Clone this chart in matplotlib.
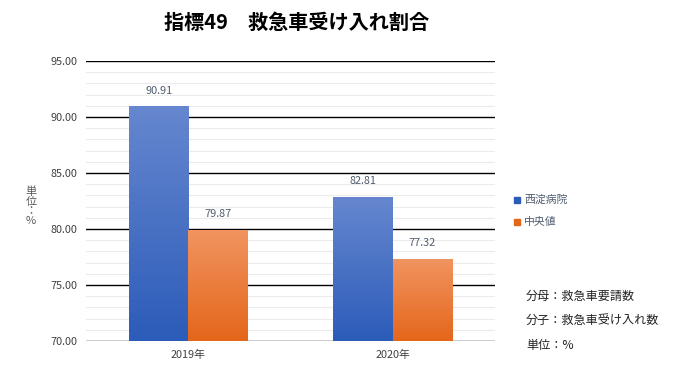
import matplotlib
matplotlib.use("Agg")
import matplotlib.pyplot as plt
import numpy as np
from matplotlib.colors import LinearSegmentedColormap

plt.rcParams['font.family'] = ['Noto Sans CJK JP', 'DejaVu Sans']

# Data
years = ["2019年", "2020年"]
hospital = [90.91, 82.81]
median = [79.87, 77.32]
series_names = ["西淀病院", "中央値"]
notes = ["分母：救急車要請数", "分子：救急車受け入れ数", "単位：%"]

blue_top, blue_bot = "#6687cf", "#2c5cb9"
orange_top, orange_bot = "#f19460", "#e4661a"

fig = plt.figure(figsize=(7, 3.7), dpi=100)
ax = fig.add_axes([86 / 700, 1 - 341 / 370, 409 / 700, 280 / 370])

x = np.arange(len(years))
w = 0.29
ymin, ymax = 70, 95


def grad_bars(xs, vals, top, bot):
    cmap = LinearSegmentedColormap.from_list("g", [bot, top])
    bars = ax.bar(xs, vals, w, color="none", zorder=3)
    for b in bars:
        x0, y0 = b.get_x(), ymin
        x1, y1 = x0 + b.get_width(), b.get_height()
        grad = np.linspace(0, 1, 256).reshape(-1, 1)
        ax.imshow(grad, cmap=cmap, origin="lower", aspect="auto",
                  extent=[x0, x1, y0, y1], zorder=3)
    return bars


grad_bars(x - w / 2, hospital, blue_top, blue_bot)
grad_bars(x + w / 2, median, orange_top, orange_bot)

for xi, v in zip(x - w / 2, hospital):
    ax.text(xi, v + 1.0, f"{v:.2f}", ha="center", va="bottom",
            fontsize=7.8, color="#4f5b6e")
for xi, v in zip(x + w / 2, median):
    ax.text(xi, v + 1.0, f"{v:.2f}", ha="center", va="bottom",
            fontsize=7.8, color="#4f5b6e")

ax.set_xlim(-0.5, 1.5)
ax.set_ylim(ymin, ymax)
ax.set_yticks(np.arange(70, 96, 5))
ax.set_yticklabels([f"{t:.2f}" for t in range(70, 96, 5)])
ax.set_yticks(np.arange(70, 96, 1), minor=True)
ax.grid(axis="y", which="major", color="black", linewidth=1.0, zorder=1)
ax.grid(axis="y", which="minor", color="#ececec", linewidth=0.8, zorder=0)
ax.set_xticks(x)
ax.set_xticklabels(years)
ax.tick_params(axis="both", which="both", length=0, labelsize=7.8,
               colors="#404040", pad=6)
for s in ax.spines.values():
    s.set_visible(False)

fig.text(297 / 700, 1 - 22 / 370, "指標49　救急車受け入れ割合",
         ha="center", va="center", fontsize=14.5, fontweight="bold")
fig.text(31 / 700, 1 - 206 / 370, "\n".join("単位：%"), ha="center",
         va="center", fontsize=8, color="#595959", linespacing=0.95)

# legend
for i, (name, c) in enumerate(zip(series_names, [blue_bot, orange_bot])):
    yy = 1 - (200 + 22 * i) / 370
    fig.patches.append(plt.Rectangle((514 / 700, yy - 3 / 370), 6 / 700, 6 / 370,
                                     transform=fig.transFigure, color=c))
    fig.text(524 / 700, yy, name, ha="left", va="center", fontsize=7.8,
             color="#4f5b6e")

for i, t in enumerate(notes):
    fig.text(526 / 700, 1 - (296 + 24.5 * i) / 370, t, ha="left", va="center",
             fontsize=8.7, color="#222222")

fig.savefig("out.png", dpi=100)
